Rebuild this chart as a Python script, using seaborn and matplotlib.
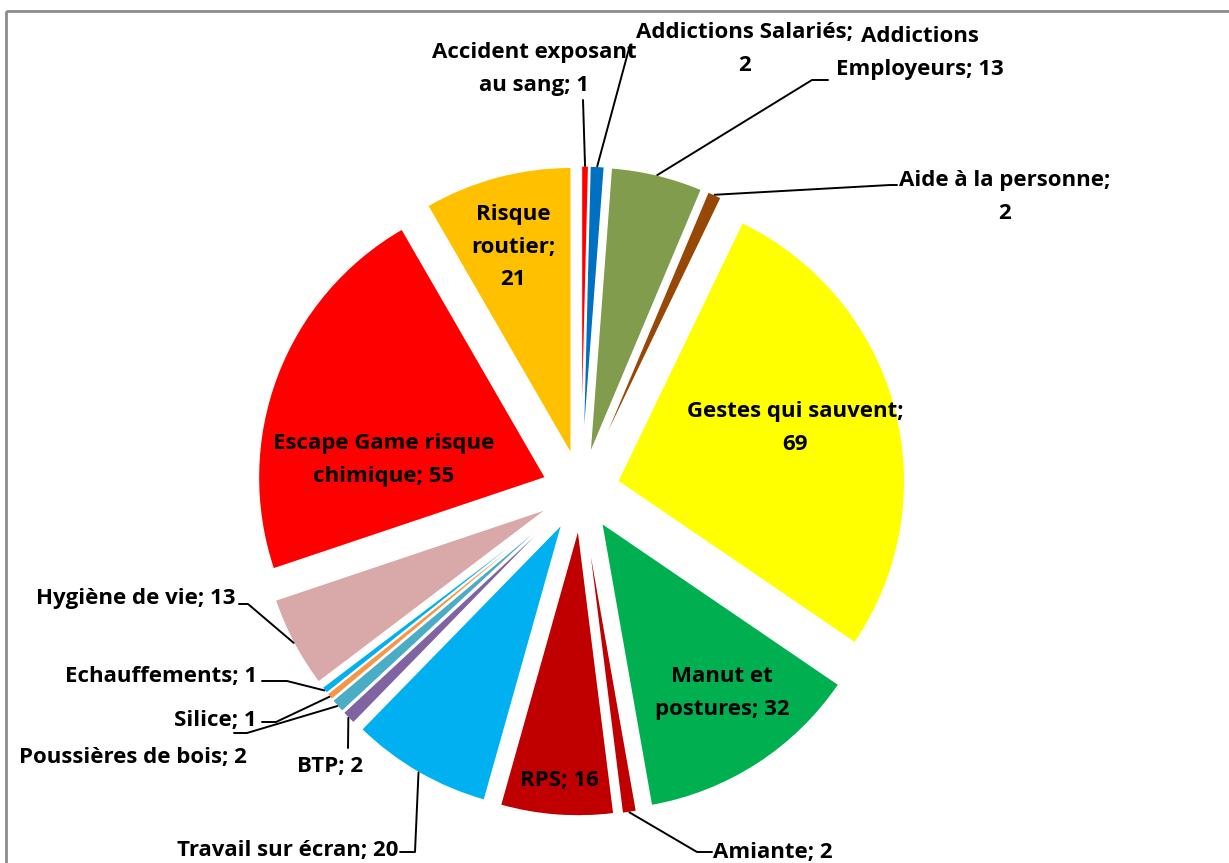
import numpy as np
import seaborn as sns
import matplotlib.pyplot as plt
from matplotlib.patches import Rectangle

# Data (clockwise from 12 o'clock)
categories = ["Accident exposant au sang", "Addictions Salariés", "Addictions Employeurs",
              "Aide à la personne", "Gestes qui sauvent", "Manut et postures", "Amiante",
              "RPS", "Travail sur écran", "BTP", "Poussières de bois", "Silice",
              "Echauffements", "Hygiène de vie", "Escape Game risque chimique", "Risque routier"]
values = [1, 2, 13, 2, 69, 32, 2, 16, 20, 2, 2, 1, 1, 13, 55, 21]
colors = ["#FF0000", "#0070C0", "#809C4C", "#974706", "#FFFF00", "#00B050", "#C00000",
          "#C00000", "#00B0F0", "#8064A2", "#4BACC6", "#F79646", "#00B0F0", "#D9A8A8",
          "#FF0000", "#FFC000"]

# Label text (with line breaks as in the chart)
label_texts = ["Accident exposant\nau sang; 1", "Addictions Salariés;\n2", "Addictions\nEmployeurs; 13",
               "Aide à la personne;\n2", "Gestes qui sauvent;\n69", "Manut et\npostures; 32",
               "Amiante; 2", "RPS; 16", "Travail sur écran; 20", "BTP; 2",
               "Poussières de bois; 2", "Silice; 1", "Echauffements; 1", "Hygiène de vie; 13",
               "Escape Game risque\nchimique; 55", "Risque\nroutier;\n21"]

# Layout: label anchor (pixels), alignment, and leader elbow points
label_pos = [(534, 69, "center"), (745, 49, "center"), (920, 53, "center"),
             (1005, 197, "center"), (795, 428, "center"), (722, 693, "center"),
             (713, 852, "left"), (559, 780, "center"), (398, 850, "right"),
             (330, 766, "center"), (247, 757, "right"), (257, 720, "right"),
             (257, 676, "right"), (235, 598, "right"), (384, 460, "center"),
             (513, 247, "center")]
leader_pts = [[(583, 100)], [(630, 45)], [(812, 80), (828, 80)], [(890, 185), (897, 185)],
              None, None, [(697, 852), (712, 852)], None, [(415, 852), (400, 852)],
              [(348, 748)], [(247, 733), (234, 733)], [(276, 722), (262, 722)],
              [(287, 681), (262, 681)], [(248, 604), (239, 604)], None, None]

sns.set_theme(style="white")
plt.rcParams["font.family"] = ["Open Sans", "DejaVu Sans"]

fig = plt.figure(figsize=(12.29, 8.63), dpi=100)
ax = fig.add_axes([0, 0, 1, 1])

# explode is in data units here (pixels), since radius is in pixels
wedges, _ = ax.pie(values, colors=colors, startangle=-90, counterclock=True,
                   radius=287, center=(581, 491), explode=[38] * len(values),
                   wedgeprops=dict(edgecolor="white", linewidth=1))
ax.set_xlim(0, 1229)
ax.set_ylim(863, 0)
ax.set_aspect("equal")
ax.axis("off")

for w, txt, (lx, ly, ha), pts in zip(wedges, label_texts, label_pos, leader_pts):
    ax.text(lx, ly, txt, ha=ha, va="center", fontsize=16, fontweight="bold",
            color="black", linespacing=1.72, multialignment="center")
    if pts:
        th = np.deg2rad((w.theta1 + w.theta2) / 2)
        cx, cy = w.center
        sx, sy = cx + w.r * np.cos(th), cy + w.r * np.sin(th)
        xs = [sx] + [p[0] for p in pts]
        ys = [sy] + [p[1] for p in pts]
        ax.plot(xs, ys, color="black", lw=1.4)

# chart area border
ax.add_patch(Rectangle((6, 11), 1300, 900, fill=False, edgecolor="#8C8C8C", lw=2, clip_on=False))

fig.savefig("out.png", dpi=100)
